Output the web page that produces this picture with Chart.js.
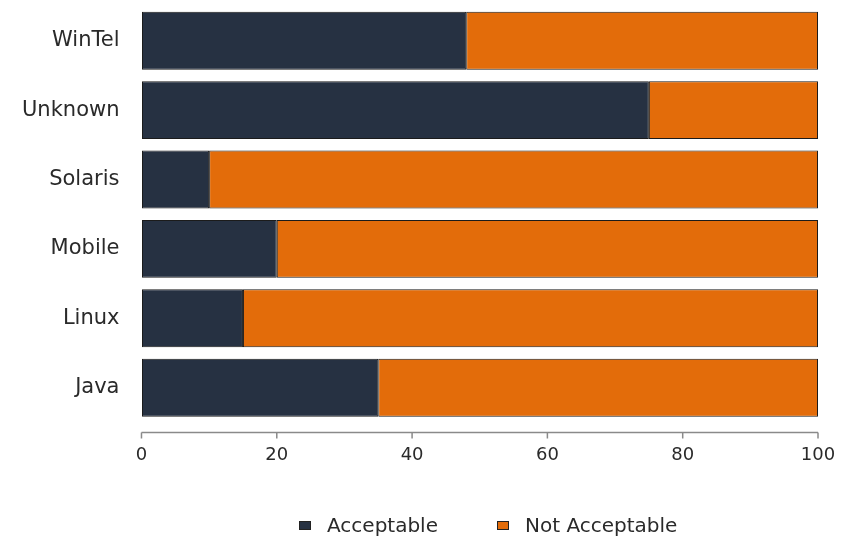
<!DOCTYPE html>
<html lang="en">
<head>
    <meta charset="UTF-8">
    <title>Acceptable vs Not Acceptable</title>
    <script src="https://cdn.jsdelivr.net/npm/chart.js"></script>
    <style>
        body {
            margin: 0;
            background: #fff;
            font-family: 'DejaVu Sans', sans-serif;
        }
        #wrap {
            position: relative;
            width: 856px;
            height: 538px;
        }
        #legend {
            position: absolute;
            left: 299px;
            top: 513px;
            display: flex;
            align-items: center;
            font-size: 20px;
            line-height: 24px;
            color: #2a2a2a;
        }
        .item {
            display: flex;
            align-items: center;
            margin-right: 59px;
        }
        .box {
            width: 10px;
            height: 7px;
            border: 1px solid #222;
            margin-right: 16px;
        }
    </style>
</head>
<body>
    <div id="wrap">
        <canvas id="barChart" width="856" height="538"></canvas>
        <div id="legend"></div>
    </div>

    <script>
        const categories = ['WinTel', 'Unknown', 'Solaris', 'Mobile', 'Linux', 'Java'];
        const acceptable = [48, 75, 10, 20, 15, 35];
        const notAcceptable = [52, 25, 90, 80, 85, 65];
        const seriesNames = ['Acceptable', 'Not Acceptable'];
        const seriesColors = ['#263142', '#e36c0a'];
        const xTicks = [0, 20, 40, 60, 80, 100];

        // axis line drawn a little below the bars, like the original
        const axisPlugin = {
            id: 'axisLine',
            afterDraw(chart) {
                const x = chart.scales.x;
                const y = chart.chartArea.bottom + 10;
                const ctx = chart.ctx;
                ctx.save();
                ctx.strokeStyle = '#8a8a8a';
                ctx.lineWidth = 1.5;
                ctx.beginPath();
                ctx.moveTo(x.getPixelForValue(xTicks[0]), y);
                ctx.lineTo(x.getPixelForValue(xTicks[xTicks.length - 1]), y);
                xTicks.forEach(v => {
                    const px = x.getPixelForValue(v);
                    ctx.moveTo(px, y);
                    ctx.lineTo(px, y + 6);
                });
                ctx.stroke();
                ctx.restore();
            }
        };

        const ctx = document.getElementById('barChart').getContext('2d');
        new Chart(ctx, {
            type: 'bar',
            data: {
                labels: categories,
                datasets: [{
                    label: seriesNames[0],
                    data: acceptable,
                    backgroundColor: seriesColors[0],
                    borderColor: '#1b1b1b',
                    borderWidth: 1,
                    borderSkipped: false
                }, {
                    label: seriesNames[1],
                    data: notAcceptable,
                    backgroundColor: seriesColors[1],
                    borderColor: '#1b1b1b',
                    borderWidth: 1,
                    borderSkipped: false
                }]
            },
            options: {
                indexAxis: 'y',
                responsive: false,
                animation: false,
                barPercentage: 0.835,
                categoryPercentage: 1,
                layout: {
                    padding: { left: 0, right: 38, top: 6, bottom: 66 }
                },
                plugins: {
                    legend: { display: false },
                    tooltip: { enabled: false }
                },
                scales: {
                    x: {
                        stacked: true,
                        min: 0,
                        max: 100,
                        afterBuildTicks: axis => {
                            axis.ticks = xTicks.map(v => ({ value: v }));
                        },
                        border: { display: false },
                        grid: {
                            drawOnChartArea: false,
                            drawTicks: true,
                            tickLength: 16,
                            color: 'rgba(0,0,0,0)'
                        },
                        ticks: {
                            padding: 6,
                            color: '#2a2a2a',
                            font: { family: 'DejaVu Sans', size: 18 }
                        }
                    },
                    y: {
                        stacked: true,
                        border: { display: false },
                        grid: { display: false, drawTicks: false },
                        // no extra room above/below for the first and last label
                        afterFit: scale => {
                            scale.paddingTop = 0;
                            scale.paddingBottom = 0;
                        },
                        ticks: {
                            padding: 22,
                            color: '#2a2a2a',
                            font: { family: 'DejaVu Sans', size: 21 }
                        }
                    }
                }
            },
            plugins: [axisPlugin]
        });

        // simple html legend from the series arrays
        const legend = document.getElementById('legend');
        seriesNames.forEach((name, i) => {
            const item = document.createElement('div');
            item.className = 'item';
            const box = document.createElement('span');
            box.className = 'box';
            box.style.background = seriesColors[i];
            item.appendChild(box);
            item.appendChild(document.createTextNode(name));
            legend.appendChild(item);
        });
    </script>
</body>
</html>
